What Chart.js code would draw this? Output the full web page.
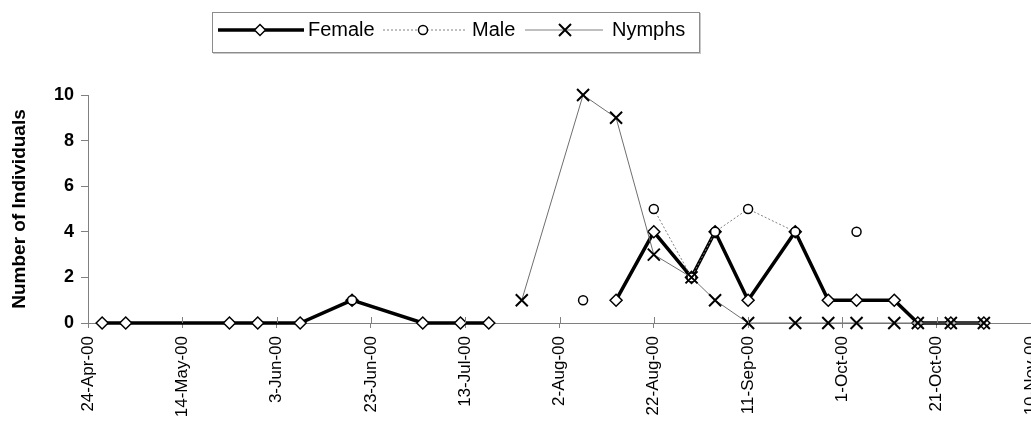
<!DOCTYPE html>
<html lang="en">
<head>
  <meta charset="UTF-8">
  <title>Number of Individuals</title>
  <script src="https://cdn.jsdelivr.net/npm/chart.js"></script>
  <style>
    body { margin: 0; background: #fff; font-family: "Liberation Sans", Arial, sans-serif; }
    #wrap { position: relative; width: 1031px; height: 423px; overflow: hidden; }
    #chart { position: absolute; left: 0; top: 0; }
    .legend { position: absolute; left: 212px; top: 12px; width: 486px; height: 39px;
              border: 1px solid #8c8c8c; box-shadow: 1px 1px 0 #c8c8c8; background: #fff; }
    .legend svg, .legend span { position: absolute; }
    .legend span { font-size: 20px; line-height: 22px; top: 5px; color: #000; white-space: nowrap; }
  </style>
</head>
<body>
  <div id="wrap">
    <canvas id="chart" width="1031" height="423"></canvas>
    <div class="legend">
      <svg style="left:5px; top:7px" width="86" height="20">
        <line x1="0" y1="10" x2="86" y2="10" stroke="#000" stroke-width="3.5"/>
        <polygon points="42,4.5 47.5,10 42,15.5 36.5,10" fill="#fff" stroke="#000" stroke-width="1.5"/>
      </svg>
      <span style="left:95px">Female</span>
      <svg style="left:170px; top:7px" width="82" height="20">
        <line x1="0" y1="10" x2="82" y2="10" stroke="#808080" stroke-width="1" stroke-dasharray="2,2"/>
        <circle cx="40" cy="10" r="4.5" fill="#fff" stroke="#000" stroke-width="1.5"/>
      </svg>
      <span style="left:259px">Male</span>
      <svg style="left:312px; top:7px" width="78" height="20">
        <line x1="0" y1="10" x2="78" y2="10" stroke="#808080" stroke-width="1"/>
        <path d="M34,4 L46,16 M46,4 L34,16" stroke="#000" stroke-width="2"/>
      </svg>
      <span style="left:399px">Nymphs</span>
    </div>
  </div>

  <script>
    // sampling dates (year 2000) and counts per date; null = not recorded
    const sampleDates = ['2000-04-27', '2000-05-02', '2000-05-24', '2000-05-30', '2000-06-08', '2000-06-19',
      '2000-07-04', '2000-07-12', '2000-07-18', '2000-07-25', '2000-08-07', '2000-08-14', '2000-08-22',
      '2000-08-30', '2000-09-04', '2000-09-11', '2000-09-21', '2000-09-28', '2000-10-04', '2000-10-12',
      '2000-10-17', '2000-10-24', '2000-10-31'];
    const femaleValues = [0, 0, 0, 0, 0, 1, 0, 0, 0, null, null, 1, 4, 2, 4, 1, 4, 1, 1, 1, 0, 0, 0];
    const maleValues = [null, null, null, null, null, 1, null, null, null, null, 1, null, 5, 2, 4, 5, 4,
      null, 4, null, null, null, null];
    const nymphValues = [null, null, null, null, null, null, null, null, null, 1, 10, 9, 3, 2, 1, 0, 0, 0,
      0, 0, 0, 0, 0];

    const axisStart = '2000-04-24';
    const axisEnd = '2000-11-10';
    const tickStepDays = 20;
    const monthNames = ['Jan', 'Feb', 'Mar', 'Apr', 'May', 'Jun', 'Jul', 'Aug', 'Sep', 'Oct', 'Nov', 'Dec'];

    const DAY = 86400000;
    const startMs = Date.parse(axisStart + 'T00:00:00Z');
    const toDay = s => Math.round((Date.parse(s + 'T00:00:00Z') - startMs) / DAY);
    const fmtDay = v => {
      const d = new Date(startMs + v * DAY);
      return d.getUTCDate() + '-' + monthNames[d.getUTCMonth()] + '-' + String(d.getUTCFullYear()).slice(2);
    };
    const series = vals => sampleDates.map((s, i) => ({ x: toDay(s), y: vals[i] }));

    // tick marks on the inner side of the date axis
    const innerTicks = {
      id: 'innerTicks',
      afterDraw(chart) {
        const xs = chart.scales.x;
        const c = chart.ctx;
        c.save();
        c.strokeStyle = '#808080';
        c.lineWidth = 1;
        xs.ticks.forEach(t => {
          const px = Math.round(xs.getPixelForValue(t.value)) + 0.5;
          c.beginPath();
          c.moveTo(px, xs.top - 6);
          c.lineTo(px, xs.top);
          c.stroke();
        });
        c.restore();
      }
    };

    Chart.defaults.font.family = '"Liberation Sans", Arial, sans-serif';

    new Chart(document.getElementById('chart'), {
      type: 'line',
      data: {
        datasets: [
          {
            label: 'Female',
            data: series(femaleValues),
            borderColor: '#000',
            borderWidth: 3.5,
            pointStyle: 'rectRot',
            pointRadius: 6,
            pointBackgroundColor: '#fff',
            pointBorderColor: '#000',
            pointBorderWidth: 1.5,
            spanGaps: false,
            clip: false,
            order: 3
          },
          {
            label: 'Male',
            data: series(maleValues),
            borderColor: '#808080',
            borderWidth: 1,
            borderDash: [2, 2],
            pointStyle: 'circle',
            pointRadius: 4.5,
            pointBackgroundColor: '#fff',
            pointBorderColor: '#000',
            pointBorderWidth: 1.5,
            spanGaps: false,
            clip: false,
            order: 2
          },
          {
            label: 'Nymphs',
            data: series(nymphValues),
            borderColor: '#6e6e6e',
            borderWidth: 1,
            pointStyle: 'crossRot',
            pointRadius: 8.5,
            pointBorderColor: '#000',
            pointBorderWidth: 2,
            spanGaps: false,
            clip: false,
            order: 1
          }
        ]
      },
      options: {
        responsive: false,
        animation: false,
        layout: { padding: { top: 95, right: 0, bottom: 0, left: 0 }, autoPadding: false },
        plugins: { legend: { display: false }, tooltip: { enabled: false } },
        elements: { line: { tension: 0 } },
        scales: {
          x: {
            type: 'linear',
            min: 0,
            max: toDay(axisEnd),
            ticks: {
              stepSize: tickStepDays,
              autoSkip: false,
              minRotation: 90,
              maxRotation: 90,
              padding: 8,
              color: '#000',
              font: { size: 17 },
              callback: v => fmtDay(v)
            },
            grid: { drawOnChartArea: false, tickLength: 5, color: '#808080' },
            border: { color: '#808080' },
            afterFit: s => { s.height = 100; s.paddingLeft = 0; s.paddingRight = 0; }
          },
          y: {
            min: 0,
            max: 10,
            ticks: { stepSize: 2, padding: 7, color: '#000', font: { size: 18, weight: 'bold' } },
            grid: { drawOnChartArea: false, tickLength: 7, color: '#808080' },
            border: { color: '#808080' },
            title: {
              display: true,
              text: 'Number of Individuals',
              color: '#000',
              font: { size: 19, weight: 'bold' },
              padding: { top: 8, bottom: 0 }
            },
            afterFit: s => { s.width = 88; }
          }
        }
      },
      plugins: [innerTicks]
    });
  </script>
</body>
</html>
